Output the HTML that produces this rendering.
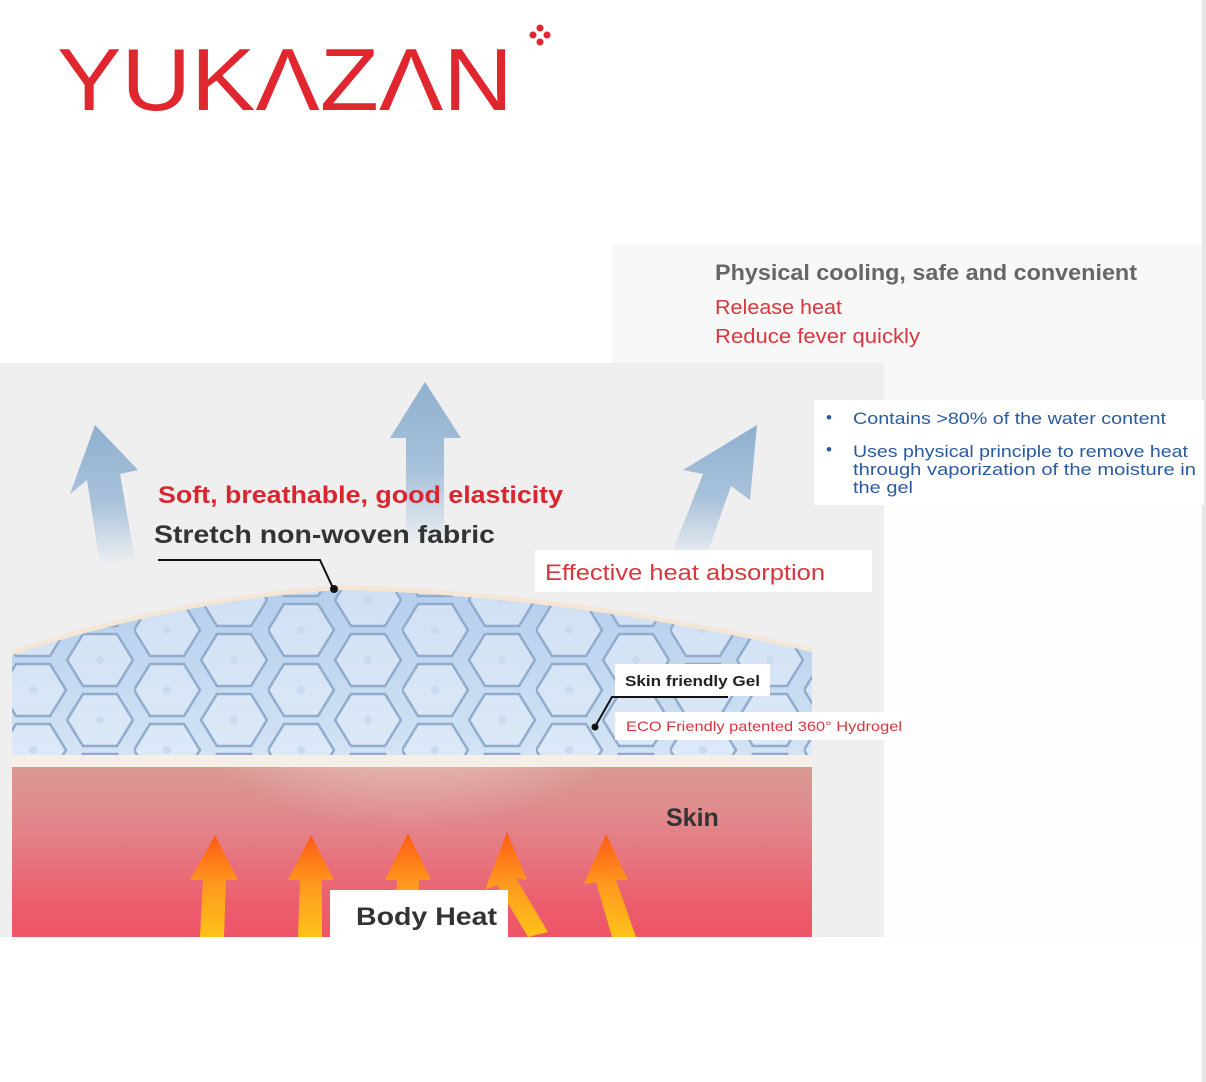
<!DOCTYPE html>
<html><head><meta charset="utf-8"><style>
html,body{margin:0;padding:0;background:#fff;}
body{width:1206px;height:1082px;position:relative;overflow:hidden;font-family:"Liberation Sans",sans-serif;}
</style></head><body>
<svg width="1206" height="1082" viewBox="0 0 1206 1082" xmlns="http://www.w3.org/2000/svg" style="position:absolute;left:0;top:0">
<defs>
<linearGradient id="blueA" x1="0" y1="0" x2="0" y2="1">
<stop offset="0" stop-color="#8fb0cf"/><stop offset="0.55" stop-color="#a9c2da"/><stop offset="1" stop-color="#eef0f2"/>
</linearGradient>
<linearGradient id="orng" x1="0" y1="0" x2="0" y2="1">
<stop offset="0" stop-color="#ff5a14"/><stop offset="0.5" stop-color="#ff9a1e"/><stop offset="1" stop-color="#ffc21a"/>
</linearGradient>
<linearGradient id="skin" x1="0" y1="0" x2="0" y2="1">
<stop offset="0" stop-color="#d99a92"/><stop offset="0.35" stop-color="#e2858a"/><stop offset="0.8" stop-color="#ec5e6e"/><stop offset="1" stop-color="#ee5566"/>
</linearGradient>
<radialGradient id="glow" cx="0.5" cy="0.2" r="0.6">
<stop offset="0" stop-color="#efd2cf" stop-opacity="0.85"/><stop offset="1" stop-color="#efd2cf" stop-opacity="0"/>
</radialGradient>
<linearGradient id="gel" x1="0" y1="0" x2="0" y2="1">
<stop offset="0" stop-color="#b3cdec"/><stop offset="1" stop-color="#d3e4f5"/>
</linearGradient>
<pattern id="hex" width="134" height="60" patternUnits="userSpaceOnUse" x="0" y="600">
<g fill="#e2edf9" fill-opacity="0.6" stroke="#90abcc" stroke-width="2.5">
<polygon points="0,30 16,4 50,4 66,30 50,56 16,56"/>
<polygon points="67,0 83,-26 117,-26 133,0 117,26 83,26"/>
<polygon points="67,60 83,34 117,34 133,60 117,86 83,86"/>
</g>
<circle cx="33" cy="30" r="4" fill="#c9dbee"/><circle cx="100" cy="0" r="4" fill="#c9dbee"/><circle cx="100" cy="60" r="4" fill="#c9dbee"/>
</pattern>
<clipPath id="gelclip"><path d="M12,655 Q180,600 340,590 Q560,595 812,652 L812,758 L12,758 Z"/></clipPath>
<clipPath id="skinclip"><rect x="12" y="767" width="800" height="170"/></clipPath>
</defs>

<!-- panels -->
<rect x="612" y="243" width="590" height="694" fill="#f8f8f9"/>
<rect x="0" y="363" width="884" height="574" fill="#efeff0"/>
<rect x="884" y="500" width="318" height="437" fill="#fdfdfd"/>
<rect x="1202" y="0" width="4" height="1082" fill="#e6e6e6"/>

<!-- logo -->
<text x="57" y="110" font-family="Liberation Sans, sans-serif" font-size="88" fill="#e0262e" textLength="456" lengthAdjust="spacingAndGlyphs">YUKΛZΛN</text>
<g fill="#e0262e"><circle cx="540" cy="28" r="3.5"/><circle cx="540" cy="42" r="3.5"/><circle cx="533" cy="35" r="3.5"/><circle cx="547" cy="35" r="3.5"/></g>

<!-- top right text -->
<text x="715" y="280" font-size="22" font-weight="bold" fill="#666" textLength="422" lengthAdjust="spacingAndGlyphs">Physical cooling, safe and convenient</text>
<text x="715" y="314" font-size="20" fill="#d9363e" textLength="127" lengthAdjust="spacingAndGlyphs">Release heat</text>
<text x="715" y="343" font-size="20" fill="#d9363e" textLength="205" lengthAdjust="spacingAndGlyphs">Reduce fever quickly</text>

<!-- bullet box -->
<rect x="814" y="400" width="390" height="105" fill="#fff"/>
<g fill="#2a5aa0" font-size="17">
<text x="826" y="423">•</text><text x="853" y="424" textLength="313" lengthAdjust="spacingAndGlyphs">Contains &gt;80% of the water content</text>
<text x="826" y="455">•</text><text x="853" y="457" textLength="335" lengthAdjust="spacingAndGlyphs">Uses physical principle to remove heat</text>
<text x="853" y="475" textLength="343" lengthAdjust="spacingAndGlyphs">through vaporization of the moisture in</text>
<text x="853" y="493" textLength="60" lengthAdjust="spacingAndGlyphs">the gel</text>
</g>

<!-- blue arrows -->
<polygon points="95,425 138,470 120,474 135,560 100,565 87,480 70,494" fill="url(#blueA)"/>
<polygon points="425,382 461,438 444,438 444,545 406,545 406,438 390,438" fill="url(#blueA)"/>
<polygon points="757,425 750,500 731,486 705,560 673,550 703,474 683,470" fill="url(#blueA)"/>

<!-- labels -->
<text x="158" y="503" font-size="24" font-weight="bold" fill="#d9262e" textLength="405" lengthAdjust="spacingAndGlyphs">Soft, breathable, good elasticity</text>
<text x="154" y="543" font-size="25" font-weight="bold" fill="#333" textLength="341" lengthAdjust="spacingAndGlyphs">Stretch non-woven fabric</text>
<rect x="535" y="550" width="337" height="42" fill="#fff"/>
<text x="545" y="580" font-size="22" fill="#d9363e" textLength="280" lengthAdjust="spacingAndGlyphs">Effective heat absorption</text>

<!-- gel -->
<path d="M12,650 Q180,596 340,585 Q560,590 812,648 L812,660 L12,660 Z" fill="#f5e6d6"/>
<g clip-path="url(#gelclip)">
<rect x="12" y="580" width="800" height="180" fill="url(#gel)"/>
<rect x="12" y="580" width="800" height="180" fill="url(#hex)"/>
</g>
<polyline points="158,560 320,560 333,588" fill="none" stroke="#111" stroke-width="2"/>
<circle cx="334" cy="589" r="4" fill="#111"/>
<rect x="12" y="755" width="800" height="12" fill="#f6efe8"/>

<!-- skin -->
<rect x="12" y="767" width="800" height="170" fill="url(#skin)"/>
<g clip-path="url(#skinclip)"><ellipse cx="410" cy="767" rx="190" ry="100" fill="url(#glow)"/></g>

<!-- gel labels -->
<rect x="615" y="664" width="155" height="32" fill="#fff"/>
<text x="625" y="686" font-size="15" font-weight="bold" fill="#222" textLength="135" lengthAdjust="spacingAndGlyphs">Skin friendly Gel</text>
<polyline points="728,697 612,697 596,725" fill="none" stroke="#111" stroke-width="2"/>
<circle cx="595" cy="727" r="3.5" fill="#111"/>
<rect x="615" y="712" width="290" height="28" fill="#fff"/>
<text x="626" y="731" font-size="14" fill="#d9363e" textLength="276" lengthAdjust="spacingAndGlyphs">ECO Friendly patented 360° Hydrogel</text>
<text x="666" y="826" font-size="25" font-weight="bold" fill="#333">Skin</text>

<!-- orange arrows -->
<g fill="url(#orng)">
<polygon points="215,835 238,880 226,880 224,937 200,937 203,880 190,880"/>
<polygon points="311,835 334,880 322,880 322,937 298,937 300,880 288,880"/>
<polygon points="408,833 431,880 419,880 419,937 395,937 397,880 385,880"/>
<polygon points="507,832 527,880 516,878 548,932 528,937 497,885 485,890"/>
<polygon points="606,834 628,880 616,880 636,937 612,937 596,882 584,884"/>
</g>
<rect x="330" y="890" width="178" height="47" fill="#fff"/>
<text x="356" y="925" font-size="25" font-weight="bold" fill="#333" textLength="141" lengthAdjust="spacingAndGlyphs">Body Heat</text>
</svg>
</body></html>
